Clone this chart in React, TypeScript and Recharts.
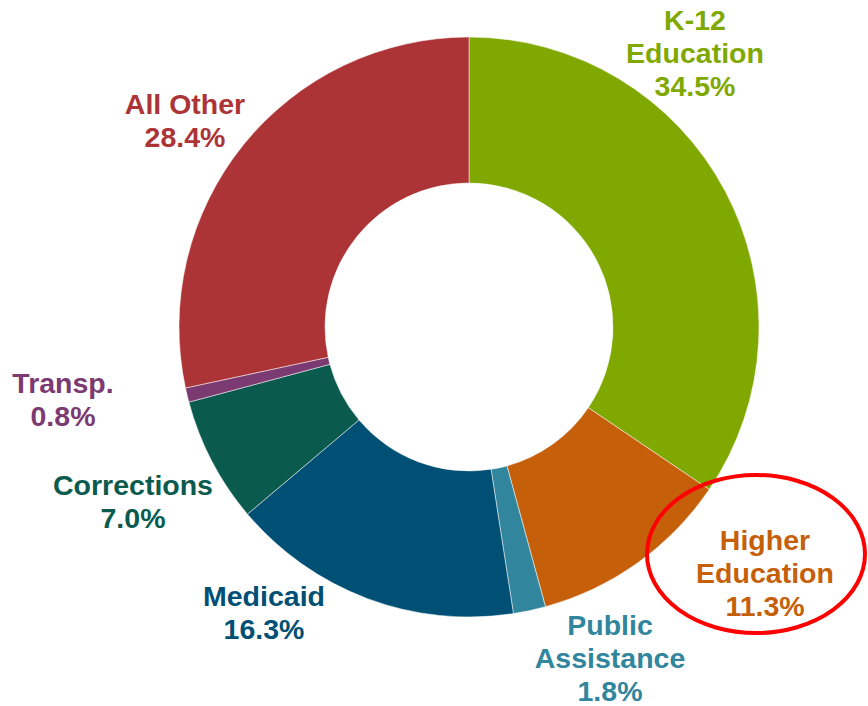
import { Cell, Pie, PieChart } from "recharts";

const categories = [
  "K-12 Education",
  "Higher Education",
  "Public Assistance",
  "Medicaid",
  "Corrections",
  "Transp.",
  "All Other",
];
const shares = [34.5, 11.3, 1.8, 16.3, 7.0, 0.8, 28.4];
const sliceColors = [
  "#7fa800",
  "#c55f0a",
  "#31869d",
  "#004f74",
  "#0b5a4e",
  "#7c3a72",
  "#ad3436",
];
// label text lines (before the percentage)
const labelLines = [
  ["K-12", "Education"],
  ["Higher", "Education"],
  ["Public", "Assistance"],
  ["Medicaid"],
  ["Corrections"],
  ["Transp."],
  ["All Other"],
];

// label anchor (center x, first baseline y) per slice
const LABEL_POS: [number, number][] = [
  [695, 30],
  [765, 550],
  [610, 635],
  [264, 606],
  [133, 495],
  [63, 393],
  [185, 114],
];

const W = 868;
const H = 706;
const LINE = 32.8;

const data = categories.map((name, i) => ({ name, value: shares[i] }));

function renderLabel(props: any) {
  const i = props.index as number;
  const [x, y] = LABEL_POS[i];
  const lines = [...labelLines[i], `${shares[i].toFixed(1)}%`];
  return (
    <text
      key={`lbl-${i}`}
      x={x}
      y={y}
      textAnchor="middle"
      fill={sliceColors[i]}
      style={{
        fontFamily: "'Liberation Sans', Arial, sans-serif",
        fontWeight: 700,
        fontSize: 28.5,
      }}
    >
      {lines.map((l, k) => (
        <tspan key={k} x={x} y={y + k * LINE}>
          {l}
        </tspan>
      ))}
    </text>
  );
}

export default function App() {
  return (
    <div style={{ position: "absolute", left: 0, top: 0, width: W, height: H, background: "#fff" }}>
      <PieChart width={W} height={H} margin={{ top: 0, right: 0, bottom: 0, left: 0 }}>
        <Pie
          data={data}
          dataKey="value"
          nameKey="name"
          cx={469}
          cy={327}
          outerRadius={290}
          innerRadius={144}
          startAngle={90}
          endAngle={-270}
          stroke="#fff"
          strokeWidth={0.5}
          label={renderLabel}
          labelLine={false}
          isAnimationActive={false}
        >
          {data.map((d, i) => (
            <Cell key={d.name} fill={sliceColors[i]} />
          ))}
        </Pie>
      </PieChart>
      <svg
        width={W}
        height={H}
        style={{ position: "absolute", left: 0, top: 0, pointerEvents: "none" }}
      >
        <ellipse cx={756} cy={554} rx={109} ry={79} fill="none" stroke="#ff0000" strokeWidth={4} />
      </svg>
    </div>
  );
}
